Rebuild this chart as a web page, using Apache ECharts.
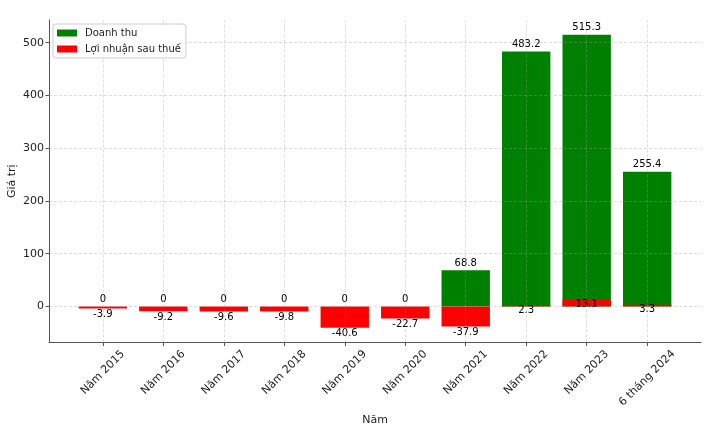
<!DOCTYPE html>
<html>
<head>
<meta charset="utf-8">
<script src="https://cdn.jsdelivr.net/npm/echarts@6/dist/echarts.min.js"></script>
<style>
  html, body { margin: 0; padding: 0; background: #ffffff; }
  #chart { width: 709px; height: 440px; }
</style>
</head>
<body>
<div id="chart"></div>
<script>
const categories = ['Năm 2015', 'Năm 2016', 'Năm 2017', 'Năm 2018', 'Năm 2019', 'Năm 2020', 'Năm 2021', 'Năm 2022', 'Năm 2023', '6 tháng 2024'];
const revenue = [0, 0, 0, 0, 0, 0, 68.8, 483.2, 515.3, 255.4];
const profit = [-3.9, -9.2, -9.6, -9.8, -40.6, -22.7, -37.9, 2.3, 13.1, 3.3];
const yTicks = [0, 100, 200, 300, 400, 500];
const seriesNames = ['Doanh thu', 'Lợi nhuận sau thuế'];

const FONT = 'DejaVu Sans';
const xIdx = categories.map((c, i) => i);

const chart = echarts.init(document.getElementById('chart'), null, { renderer: 'canvas' });

const option = {
  backgroundColor: '#ffffff',
  animation: false,
  textStyle: { fontFamily: FONT },
  grid: { left: 49, right: 8, top: 20, bottom: 97.5, containLabel: false, outerBoundsMode: 'none' },
  legend: {
    data: seriesNames,
    orient: 'vertical',
    left: 53,
    top: 24,
    icon: 'rect',
    itemWidth: 20,
    itemHeight: 7,
    itemGap: 4,
    padding: [3, 5, 3, 4],
    borderColor: '#cccccc',
    borderWidth: 1,
    borderRadius: 3,
    backgroundColor: 'rgba(255,255,255,0.85)',
    textStyle: { fontFamily: FONT, fontSize: 10, color: '#222', padding: [0, 0, 0, 3], lineHeight: 12 },
    z: 20
  },
  xAxis: {
    type: 'value',
    min: -0.89,
    max: 9.89,
    name: 'Năm',
    nameLocation: 'middle',
    nameGap: 72,
    nameMoveOverlap: false,
    nameTextStyle: { fontFamily: FONT, fontSize: 11, color: '#222' },
    axisLine: { show: true, onZero: false, lineStyle: { color: '#555', width: 1 } },
    axisTick: { show: true, customValues: xIdx, length: 3.5, lineStyle: { color: '#555' } },
    axisLabel: {
      customValues: xIdx,
      rotate: 45,
      align: 'center',
      verticalAlign: 'middle',
      margin: 30,
      fontFamily: FONT,
      fontSize: 11,
      color: '#222',
      formatter: function (v) {
        const name = categories[Math.round(v)];
        if (name === undefined) return '';
        return name.length > 8 ? '{p|' + name + '}' : name;
      },
      rich: { p: { fontFamily: FONT, fontSize: 11, color: '#222', padding: [8, 8, 0, 0] } }
    },
    splitLine: { show: false }
  },
  yAxis: {
    type: 'value',
    min: -68.4,
    max: 543.1,
    name: 'Giá trị',
    nameLocation: 'middle',
    nameGap: 31,
    nameMoveOverlap: false,
    nameTextStyle: { fontFamily: FONT, fontSize: 11, color: '#222' },
    axisLine: { show: true, onZero: false, lineStyle: { color: '#555', width: 1 } },
    axisTick: { show: true, customValues: yTicks, length: 3.5, lineStyle: { color: '#555' } },
    axisLabel: { customValues: yTicks, margin: 5, fontFamily: FONT, fontSize: 11, color: '#222' },
    splitLine: { show: false }
  },
  series: [
    {
      name: seriesNames[0],
      type: 'bar',
      barWidth: '80%',
      barGap: '-100%',
      itemStyle: { color: '#008000' },
      z: 2,
      label: {
        show: true,
        position: 'top',
        distance: 2,
        fontFamily: FONT,
        fontSize: 10,
        color: '#000',
        formatter: p => String(p.value[1])
      },
      data: revenue.map((v, i) => [i, v])
    },
    {
      name: seriesNames[1],
      type: 'bar',
      barWidth: '80%',
      barGap: '-100%',
      itemStyle: { color: '#ff0000' },
      z: 3,
      label: {
        show: true,
        distance: 1,
        fontFamily: FONT,
        fontSize: 10,
        color: '#000',
        formatter: p => String(p.value[1])
      },
      data: profit.map((v, i) => ({
        value: [i, v],
        label: { position: v < 0 ? 'bottom' : 'insideTop', distance: v < 0 ? 1 : 0 }
      }))
    },
    {
      name: 'gridlines',
      type: 'scatter',
      data: [],
      silent: true,
      z: 4,
      markLine: {
        silent: true,
        symbol: ['none', 'none'],
        label: { show: false },
        emphasis: { disabled: true },
        lineStyle: { color: 'rgba(160,160,160,0.45)', type: [3, 2], width: 0.8 },
        data: [
          ...xIdx.map(i => ({ xAxis: i })),
          ...yTicks.map(v => ({ yAxis: v }))
        ]
      }
    }
  ]
};

chart.setOption(option);
</script>
</body>
</html>
